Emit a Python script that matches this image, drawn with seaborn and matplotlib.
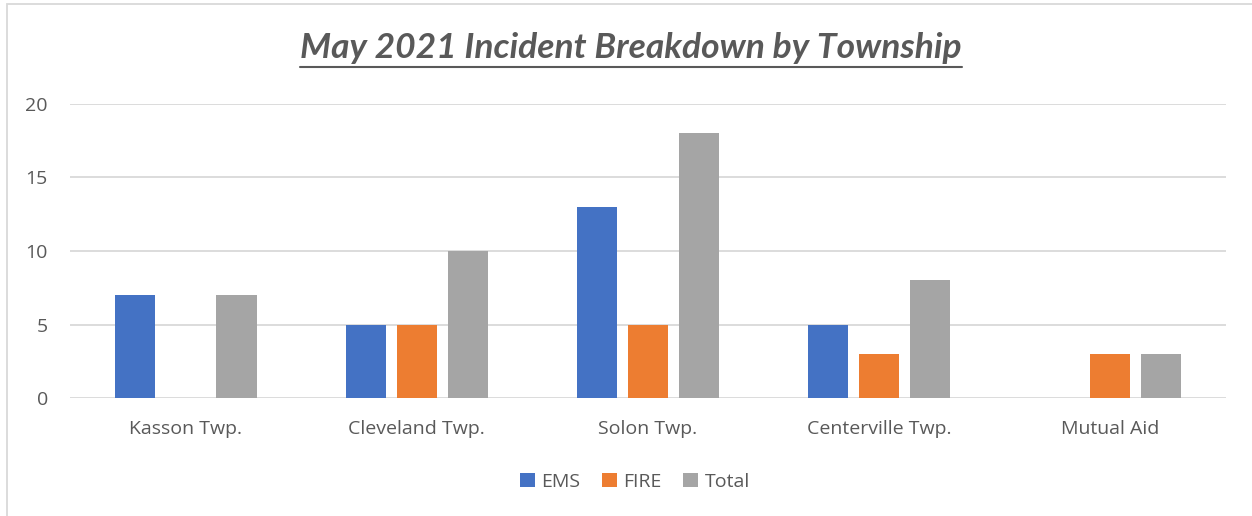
import matplotlib
matplotlib.use("Agg")
import matplotlib.pyplot as plt
import seaborn as sns
import pandas as pd
from matplotlib.patches import Rectangle
from matplotlib.lines import Line2D

townships = ["Kasson Twp.", "Cleveland Twp.", "Solon Twp.", "Centerville Twp.", "Mutual Aid"]
series = ["EMS", "FIRE", "Total"]
ems = [7, 5, 13, 5, 0]
fire = [0, 5, 5, 3, 3]
total = [7, 10, 18, 8, 3]
colors = ["#4472C4", "#ED7D31", "#A5A5A5"]
title = "May 2021 Incident Breakdown by Township"
yticks = [0, 5, 10, 15, 20]

rows = []
for name, vals in zip(series, [ems, fire, total]):
    for t, v in zip(townships, vals):
        rows.append({"Township": t, "Series": name, "Count": v})
df = pd.DataFrame(rows)

sns.set_theme(style="white")
plt.rcParams["font.family"] = ["Open Sans", "DejaVu Sans"]
txt = "#595959"

fig = plt.figure(figsize=(12.52, 5.16), dpi=100)
ax = fig.add_axes([70/1252, 1-398/516, (1226-70)/1252, (398-104)/516])

sns.barplot(data=df, x="Township", y="Count", hue="Series", order=townships,
            hue_order=series, palette=colors, width=0.66, gap=0.21,
            saturation=1, ax=ax, legend=True, linewidth=0)

ax.set_ylim(0, 20)
ax.set_xlim(-0.5, 4.5)
ax.set_yticks(yticks)
ax.yaxis.grid(True, color="#D9D9D9", linewidth=1.3)
ax.set_axisbelow(True)
for s in ax.spines.values():
    s.set_visible(False)
ax.set_xlabel("")
ax.set_ylabel("")
ax.tick_params(axis="y", length=0, pad=16, labelsize=14, labelcolor=txt)
ax.tick_params(axis="x", length=0, pad=16, labelsize=14, labelcolor=txt)

leg = ax.legend(loc="center", bbox_to_anchor=((635-70)/1156, 1-(482-104)/(398-104)),
                ncol=3, frameon=False, fontsize=14, handlelength=0.75,
                handleheight=0.75, handletextpad=0.35, columnspacing=1.1,
                labelcolor=txt)

t = fig.text(631/1252, 1-48/516, title, ha="center", va="center",
             fontsize=25.5, fontweight="bold", fontstyle="italic",
             color=txt, family=["Lato", "DejaVu Sans"])
fig.canvas.draw()
bb = t.get_window_extent().transformed(fig.transFigure.inverted())
uy = 1-67/516
fig.add_artist(Line2D([bb.x0, bb.x1], [uy, uy], transform=fig.transFigure,
                      color=txt, linewidth=1.5))

fig.add_artist(Rectangle((7/1252, -0.1), 1.2, 1-4/516+0.1, transform=fig.transFigure,
                         fill=False, edgecolor="#D9D9D9", linewidth=1.3))

fig.savefig("out.png", dpi=100)
